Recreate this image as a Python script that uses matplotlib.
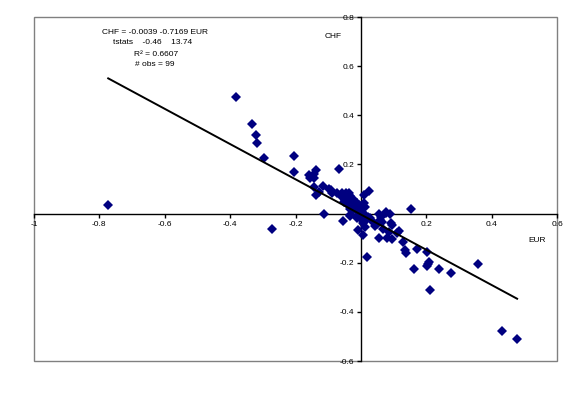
import matplotlib.pyplot as plt
from matplotlib.patches import Rectangle

# EUR / CHF changes
eur = [-0.773, -0.382, -0.332, -0.321, -0.318, -0.296, -0.204, -0.205, -0.271, -0.160,
       -0.156, -0.142, -0.136, -0.142, -0.066, -0.142, -0.136, -0.127, -0.115, -0.112,
       -0.092, -0.087, -0.074, -0.059, -0.044, -0.034, -0.057, -0.049, -0.042, -0.029,
       -0.023, -0.013, -0.006, -0.034, -0.023, -0.015, -0.056, -0.034, -0.011, -0.008,
       0.009, 0.026, 0.009, 0.012, 0.002, 0.002, 0.012, 0.017, 0.012, 0.007,
       0.019, 0.028, 0.036, 0.048, 0.056, 0.063, 0.065, 0.076, 0.089, 0.091,
       0.094, 0.056, 0.081, 0.094, 0.068, 0.117, 0.154, 0.129, 0.135, 0.138,
       0.164, 0.173, 0.201, 0.201, 0.204, 0.209, 0.238, 0.210, 0.277, 0.358,
       0.431, 0.478, -0.098, -0.036, -0.052, -0.019, -0.003, -0.032, -0.013, 0.002,
       0.005, 0.058, 0.078, 0.087, 0.109, -0.028, -0.008, 0.022, 0.042]
chf = [0.034, 0.474, 0.366, 0.320, 0.287, 0.225, 0.236, 0.171, -0.061, 0.159,
       0.145, 0.163, 0.179, 0.145, 0.180, 0.109, 0.075, 0.088, 0.113, 0.0,
       0.095, 0.084, 0.085, 0.084, 0.084, 0.072, 0.068, 0.054, 0.038, 0.043,
       0.061, 0.041, 0.034, 0.020, 0.014, 0.020, -0.031, -0.011, -0.020, -0.068,
       0.075, 0.091, 0.041, 0.027, 0.007, -0.007, -0.007, -0.027, -0.054, -0.088,
       -0.176, -0.020, -0.034, -0.043, 0.0, -0.014, -0.034, 0.005, 0.0, -0.038,
       -0.047, -0.098, -0.098, -0.102, -0.061, -0.071, 0.018, -0.115, -0.147, -0.160,
       -0.227, -0.145, -0.156, -0.214, -0.204, -0.197, -0.224, -0.313, -0.240, -0.204,
       -0.479, -0.512, 0.100, 0.085, 0.046, 0.030, 0.022, -0.005, -0.010, -0.026,
       -0.040, -0.026, 0.004, -0.073, -0.080, 0.050, 0.008, -0.012, -0.050]

a, b = -0.0039, -0.7169
fit_x = [min(eur), max(eur)]
fit_y = [a + b * v for v in fit_x]

x_ticks = [-1, -0.8, -0.6, -0.4, -0.2, 0, 0.2, 0.4, 0.6]
y_ticks = [-0.6, -0.4, -0.2, 0.2, 0.4, 0.6, 0.8]

plt.rcParams['font.family'] = ['Liberation Sans', 'DejaVu Sans']

fig = plt.figure(figsize=(5.76, 3.94), dpi=100)
ax = fig.add_axes([34/576, 33/394, 523/576, 344/394])

ax.plot(eur, chf, 'D', color='#000080', markersize=5.3, markeredgewidth=0, zorder=3)
ax.plot(fit_x, fit_y, color='black', lw=1.4, zorder=4)

ax.set_xlim(-1, 0.6)
ax.set_ylim(-0.6, 0.8)

# axes crossing at the origin
ax.spines['left'].set_position(('data', 0))
ax.spines['bottom'].set_position(('data', 0))
for s in ['top', 'right']:
    ax.spines[s].set_visible(False)
for s in ['left', 'bottom']:
    ax.spines[s].set_linewidth(1.0)
ax.add_patch(Rectangle((0, 0), 1, 1, transform=ax.transAxes, fill=False,
                       edgecolor='#808080', lw=1.0, clip_on=False, zorder=0))

ax.set_xticks(x_ticks)
ax.set_xticklabels(['-1', '-0.8', '-0.6', '-0.4', '-0.2', '0', '0.2', '0.4', '0.6'])
ax.set_yticks(y_ticks)
ax.set_yticklabels(['-0.6', '-0.4', '-0.2', '0.2', '0.4', '0.6', '0.8'])
ax.tick_params(direction='out', length=3, width=1, labelsize=6, pad=2)

fig.text(333/576, 1 - 36/394, 'CHF', fontsize=6, ha='center', va='center')
fig.text(537/576, 1 - 240/394, 'EUR', fontsize=6, ha='center', va='center')

fig.text(102/576, 1 - 33/394, 'CHF = -0.0039 -0.7169 EUR', fontsize=6, ha='left', va='center')
fig.text(113/576, 1 - 43/394, 'tstats    -0.46    13.74', fontsize=6, ha='left', va='center')
fig.text(134/576, 1 - 54/394, 'R² = 0.6607', fontsize=6, ha='left', va='center')
fig.text(135/576, 1 - 64/394, '# obs = 99', fontsize=6, ha='left', va='center')

plt.savefig('out.png', dpi=100)
